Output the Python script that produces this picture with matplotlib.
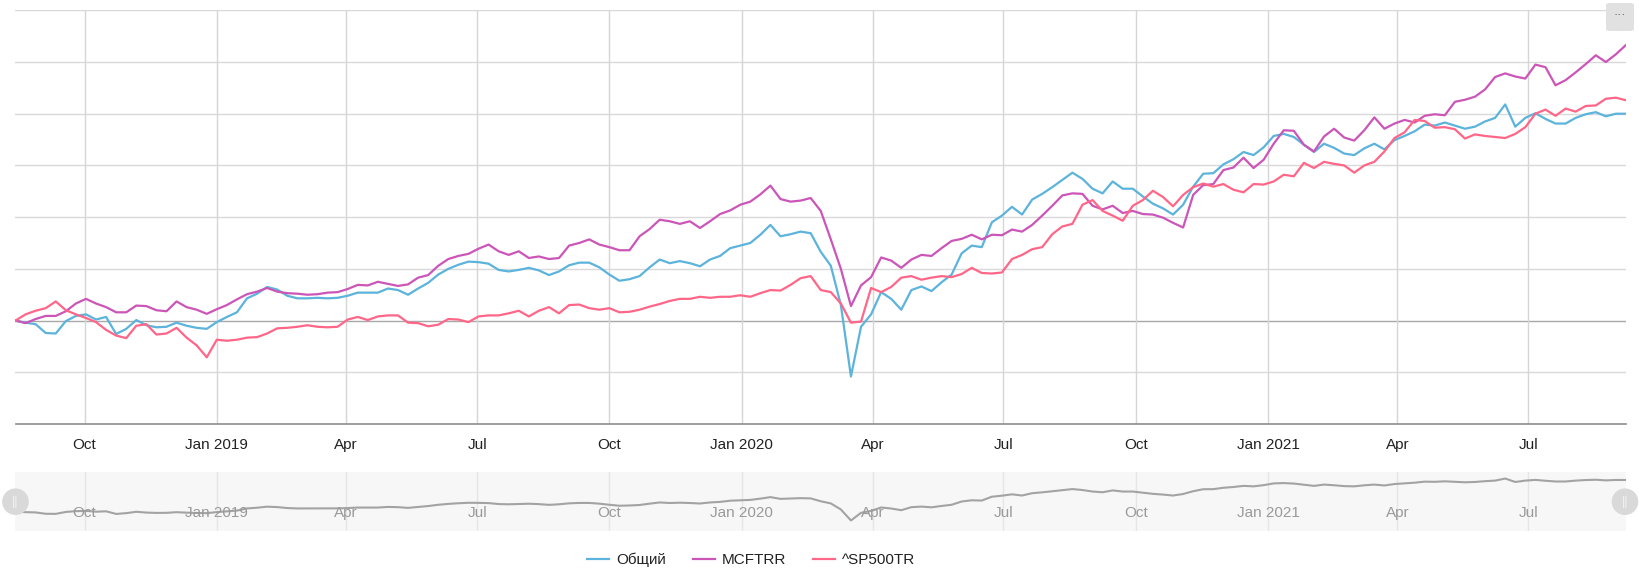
import matplotlib
matplotlib.use("Agg")
import matplotlib.pyplot as plt
import matplotlib.dates as mdates
from matplotlib.patches import Circle, FancyBboxPatch
import pandas as pd

plt.rcParams['font.family'] = ['Liberation Sans', 'DejaVu Sans']

# ---------------- data (weekly samples, % return) ----------------
start_date = "2018-08-14"
n_weeks = 161
dates = pd.date_range(start_date, periods=n_weeks, freq="7D")

series_names = ["Общий", "MCFTRR", "^SP500TR"]
series_colors = ["#5cb3db", "#cc55b8", "#ff6688"]

obshchiy = [
    0.0, -0.4, -0.7, -2.4, -2.5, -0.1, 0.9, 1.2, 0.2, 0.7, -2.6, -1.6, 0.1, -0.9, -1.3, -1.2,
    -0.4, -1.0, -1.4, -1.6, -0.3, 0.7, 1.6, 4.3, 5.2, 6.5, 6.0, 4.8, 4.3, 4.3, 4.4, 4.3,
    4.4, 4.8, 5.4, 5.4, 5.4, 6.2, 5.9, 5.0, 6.2, 7.3, 8.9, 10.0, 10.8, 11.4, 11.3, 11.0,
    9.8, 9.5, 9.8, 10.2, 9.7, 8.8, 9.5, 10.7, 11.2, 11.2, 10.3, 8.9, 7.7, 8.0, 8.6, 10.3, 11.8,
    11.1, 11.5, 11.1, 10.5, 11.8, 12.5, 14.0, 14.5, 15.0, 16.6, 18.5, 16.3, 16.7, 17.2, 16.9,
    13.3, 10.6, 3.0, -10.8, -1.2, 1.2, 5.5, 4.2, 2.1, 5.9, 6.6, 5.7, 7.4, 8.9, 13.0, 14.5,
    14.2, 19.0, 20.3, 22.0, 20.5,
    23.4, 24.5, 25.8, 27.2, 28.6, 27.4, 25.5, 24.6, 26.9, 25.5, 25.5, 24.0, 22.6, 21.7, 20.5,
    22.4, 25.9, 28.4, 28.5, 30.2, 31.2, 32.6, 32.0, 33.5, 35.7, 36.1, 35.5,
    34.0, 32.6, 34.2, 33.4, 32.3, 32.0, 33.3, 34.2, 33.1, 34.9, 35.7, 36.6, 37.9, 37.7, 38.3,
    37.7, 37.1, 37.5, 38.5, 39.2, 41.8, 37.5, 39.2, 40.1, 39.0, 38.1, 38.1, 39.2, 39.9, 40.3,
    39.5, 40.0, 40.0,
]

mcftrr = [
    0.0, -0.5, 0.3, 0.9, 0.9, 1.8, 3.3, 4.2, 3.3, 2.6, 1.6, 1.6, 2.9, 2.8, 2.0, 1.8,
    3.7, 2.6, 2.1, 1.3, 2.2, 3.0, 4.1, 5.1, 5.6, 6.3, 5.6, 5.3, 5.2, 5.0, 5.1, 5.4,
    5.5, 6.1, 6.9, 6.8, 7.5, 7.1, 6.7, 7.0, 8.3, 8.8, 10.6, 11.9, 12.5, 12.9, 13.9, 14.7,
    13.4, 12.7, 13.4, 12.1, 12.4, 11.9, 12.1, 14.5, 15.0, 15.7, 14.7, 14.2, 13.6, 13.6, 16.3,
    17.7, 19.5,
    19.2, 18.7, 19.2, 17.9, 19.2, 20.6, 21.3, 22.4, 23.0, 24.4, 26.1, 23.5, 23.0, 23.2, 23.7,
    21.2, 15.7, 10.0, 2.8, 6.8, 8.4, 12.2, 11.6, 10.2, 11.8, 12.7, 12.5, 14.0, 15.4, 15.8,
    16.6, 15.7, 16.6, 16.5, 17.6, 17.2,
    18.5, 20.3, 22.2, 24.2, 24.6, 24.5, 22.2, 21.5, 22.2, 20.8, 21.2, 20.6, 20.5, 19.9, 18.9,
    18.0, 24.3, 26.2, 26.4, 29.1, 29.6, 31.5, 29.5, 31.1, 34.2, 36.8, 36.7,
    34.0, 32.7, 35.6, 37.1, 35.4, 34.8, 36.8, 39.3, 37.1, 38.1, 38.8, 38.3, 39.6, 39.9, 39.7,
    42.3, 42.7, 43.3, 44.7, 47.1, 47.8, 47.2, 46.8, 49.5, 49.0, 45.5, 46.5, 48.0, 49.6, 51.3,
    50.0, 51.5, 53.3,
]

sp500tr = [
    0.0, 1.2, 1.9, 2.4, 3.7, 2.0, 1.2, 0.5, -0.3, -1.8, -2.9, -3.4, -1.0, -0.7, -2.7, -2.5,
    -1.4, -3.3, -4.8, -7.1, -3.7, -3.9, -3.7, -3.3, -3.2, -2.5, -1.5, -1.4, -1.2, -0.9, -1.2, -1.3,
    -1.2, 0.2, 0.7, 0.1, 0.8, 1.0, 1.0, -0.4, -0.5, -1.1, -0.8, 0.3, 0.2, -0.3, 0.8, 1.0,
    1.0, 1.4, 1.9, 0.8, 1.9, 2.6, 1.4, 3.0, 3.1, 2.4, 2.1, 2.4, 1.6, 1.7, 2.1, 2.7, 3.2,
    3.8, 4.2, 4.2, 4.6, 4.4, 4.6, 4.6, 4.9, 4.6, 5.3, 5.9, 5.8, 6.9, 8.2, 8.6,
    5.9, 5.5, 3.3, -0.4, -0.2, 6.3, 5.5, 6.5, 8.3, 8.6, 7.9, 8.3, 8.6, 8.4, 9.0, 10.2,
    9.2, 9.1, 9.3, 11.9, 12.7,
    13.8, 14.2, 16.7, 18.2, 18.7, 22.4, 23.3, 21.2, 20.3, 19.3, 22.2, 23.3, 25.1, 23.9, 22.1,
    24.3, 25.8, 26.5, 25.9, 26.4, 25.3, 24.8, 26.4, 26.3, 26.9, 28.2, 27.9,
    30.5, 29.5, 30.7, 30.3, 30.0, 28.6, 30.0, 30.7, 32.7, 35.3, 36.4, 38.8, 38.6, 37.3, 37.4,
    37.0, 35.2, 36.0, 35.7, 35.5, 35.3, 36.1, 37.4, 40.0, 40.8, 39.6, 41.0, 40.4, 41.5, 41.6,
    42.9, 43.1, 42.6,
]

tick_dates = ["2018-10-01", "2019-01-01", "2019-04-01", "2019-07-01", "2019-10-01",
              "2020-01-01", "2020-04-01", "2020-07-01", "2020-10-01", "2021-01-01",
              "2021-04-01", "2021-07-01"]
tick_labels = ["Oct", "Jan 2019", "Apr", "Jul", "Oct", "Jan 2020", "Apr", "Jul", "Oct",
               "Jan 2021", "Apr", "Jul"]
y_ticks = [-20, -10, 0, 10, 20, 30, 40, 50, 60]

# ---------------- figure ----------------
W, H = 1640, 578
fig = plt.figure(figsize=(W / 100, H / 100), dpi=100)
fig.patch.set_facecolor("white")

def frac_x(px):
    return px / W

def frac_y(py):
    return 1 - py / H

left_px, right_px = 15.5, 1626
main_top, main_bot = 10.3, 424
ax = fig.add_axes([frac_x(left_px), frac_y(main_bot), frac_x(right_px - left_px),
                   (main_bot - main_top) / H])

all_series = [obshchiy, mcftrr, sp500tr]
for vals, name, col in zip(all_series, series_names, series_colors):
    ax.plot(dates, vals, color=col, lw=1.6, label=name, zorder=3, solid_joinstyle="round")

ax.set_xlim(dates[0], dates[-1])
ax.set_ylim(y_ticks[0], y_ticks[-1])
ax.set_yticks(y_ticks)
ax.set_yticklabels([])
tick_dt = pd.to_datetime(tick_dates)
ax.set_xticks(tick_dt)
ax.set_xticklabels(tick_labels, fontsize=11, color="#222222")
ax.tick_params(axis="x", length=0, pad=10)
ax.tick_params(axis="y", length=0)
for yv in y_ticks:
    if yv == 0:
        ax.axhline(yv, color="#a8a8a8", lw=1.0, zorder=1)
    elif yv != y_ticks[0]:
        ax.axhline(yv, color="#d9d9d9", lw=1.0, zorder=1)
for td in tick_dt:
    ax.axvline(td, color="#d6d6d6", lw=1.0, zorder=1)
for s in ["top", "right", "left"]:
    ax.spines[s].set_visible(False)
ax.spines["bottom"].set_color("#8c8c8c")
ax.spines["bottom"].set_linewidth(1.2)

# ---------------- navigator ----------------
nav_top, nav_bot = 472, 531
axn = fig.add_axes([frac_x(left_px), frac_y(nav_bot), frac_x(right_px - left_px),
                    (nav_bot - nav_top) / H])
axn.set_facecolor("#f7f7f7")
axn.plot(dates, obshchiy, color="#a3a3a3", lw=1.5, zorder=3)
axn.set_xlim(dates[0], dates[-1])
axn.set_ylim(-24, 50)
axn.set_yticks([])
axn.set_xticks(tick_dt)
axn.set_xticklabels([])
axn.tick_params(axis="x", length=0)
for td in tick_dt:
    axn.axvline(td, color="#e6e6e6", lw=1.0, zorder=1)
for td, lab in zip(tick_dt, tick_labels):
    axn.text(td, -1.5, lab, ha="center", va="center", fontsize=11, color="#9a9a9a", zorder=4)
for s in axn.spines.values():
    s.set_visible(False)

# handles
for cx in (left_px, right_px - 1):
    cy = H - 501.7
    circ = Circle((cx / 100, cy / 100), 0.133, transform=fig.dpi_scale_trans,
                  facecolor="#d9d9d9", edgecolor="none", zorder=10)
    fig.patches.append(circ)
    fig.text(frac_x(cx), frac_y(501.7), "||", ha="center", va="center", fontsize=9,
             color="#f4f4f4", zorder=11)

# ---------------- menu button ----------------
btn = FancyBboxPatch((frac_x(1606), frac_y(31)), frac_x(28), 28 / H,
                     boxstyle="round,pad=0,rounding_size=0.003",
                     transform=fig.transFigure, facecolor="#e1e1e1", edgecolor="none")
fig.patches.append(btn)
fig.text(frac_x(1620), frac_y(15), "···", ha="center", va="center", fontsize=9, color="#555555")

# ---------------- legend ----------------
handles, labels = ax.get_legend_handles_labels()
fig.legend(handles, labels, loc="center", bbox_to_anchor=(frac_x(751), frac_y(560)),
           ncol=3, frameon=False, fontsize=11, handlelength=1.45, handletextpad=0.45,
           columnspacing=1.75, labelcolor="#222222")

fig.savefig("out.png", dpi=100, facecolor="white")
